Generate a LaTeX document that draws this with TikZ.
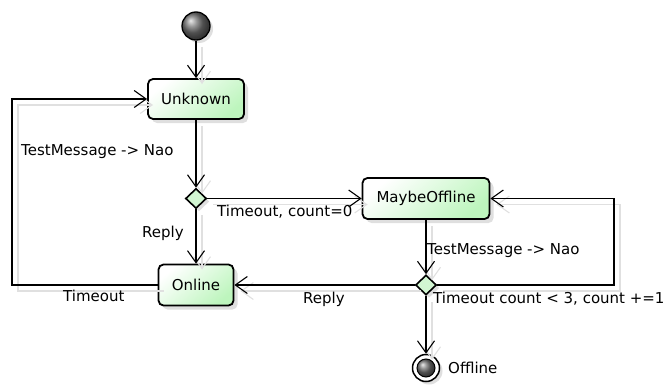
\documentclass[tikz,border=0pt]{standalone}
\usepackage{fontspec}
\setmainfont{DejaVu Sans}
\usetikzlibrary{arrows.meta,shapes.geometric,shadows}
\definecolor{boxgreen}{HTML}{BDF5BD}
\definecolor{diagreen}{HTML}{D2F6D2}
\tikzset{
  txt/.style={font=\fontsize{15}{18}\selectfont},
  state/.style={draw, line width=1.8pt, rounded corners=5pt, top color=white, bottom color=boxgreen, shading angle=40, inner sep=0pt, txt,
     drop shadow={shadow xshift=4pt, shadow yshift=-4pt, fill=black!25, opacity=0.5}},
  choice/.style={diamond, draw, line width=1.6pt, fill=diagreen, minimum width=21pt, minimum height=20pt, inner sep=0pt,
     drop shadow={shadow xshift=3pt, shadow yshift=-3pt, fill=black!25, opacity=0.5}},
  initst/.style={circle, draw, line width=1.3pt, minimum size=28pt, inner sep=0pt, shading=ball, ball color=black!55,
     drop shadow={shadow xshift=3pt, shadow yshift=-3pt, fill=black!25, opacity=0.5}},
  finalst/.style={circle, draw, line width=1.5pt, minimum size=27pt, inner sep=0pt, fill=white,
     drop shadow={shadow xshift=3pt, shadow yshift=-3pt, fill=black!25, opacity=0.5}},
  finalin/.style={circle, draw, line width=1pt, minimum size=18pt, inner sep=0pt, shading=ball, ball color=black!55},
  conn/.style={line width=1.1pt, -{Straight Barb[length=12pt,width=17pt,line width=1.1pt]}},
  shadowline/.style={draw=black!12, line width=1.1pt, -{Straight Barb[length=12pt,width=17pt,line width=1.1pt]}},
  lbl/.style={anchor=base west, inner sep=0pt, txt}
}
\newcommand\edgeshadow[1]{\draw[shadowline, transform canvas={shift={(6pt,-6pt)}}] #1;}
\begin{document}
\begin{tikzpicture}[x=1pt,y=-1pt]
\useasboundingbox (0,0) rectangle (671,385);
% nodes
\node[initst] (start) at (196,26) {};
\node[state, minimum width=96pt, minimum height=40pt] (unk) at (196,99) {Unknown};
\node[choice] (d1) at (196,198.5) {};
\node[state, minimum width=127pt, minimum height=41pt] (mo) at (426,198.5) {MaybeOffline};
\node[state, minimum width=75pt, minimum height=41pt] (onl) at (196,285) {Online};
\node[choice] (d2) at (426,285) {};
\node[finalst] (end) at (426,368) {};
\node[finalin] (endin) at (end.center) {};
\coordinate (lb) at (12,285);
\coordinate (rb) at (614,285);
% connector shadows
\edgeshadow{(start) -- (unk)}
\edgeshadow{(unk) -- (d1)}
\edgeshadow{(d1) -- (onl)}
\edgeshadow{(d1) -- (mo)}
\edgeshadow{(onl.west) -- (lb) |- (unk.west)}
\edgeshadow{(mo) -- (d2)}
\edgeshadow{(d2) -- (onl)}
\edgeshadow{(d2.east) -- (rb) |- (mo.east)}
\edgeshadow{(d2) -- (end)}
% connectors
\draw[conn] (start) -- (unk);
\draw[conn] (unk) -- (d1);
\draw[conn] (d1) -- (onl);
\draw[conn] (d1) -- (mo);
\draw[conn] (onl.west) -- (lb) |- (unk.west);
\draw[conn] (mo) -- (d2);
\draw[conn] (d2) -- (onl);
\draw[conn] (d2.east) -- (rb) |- (mo.east);
\draw[conn] (d2) -- (end);
% labels
\node[lbl] (l1) at (21,155) {TestMessage -> Nao};
\node[lbl] (l2) at (217,216) {Timeout, count=0};
\node[lbl] (l3) at (142,237) {Reply};
\node[lbl] (l4) at (63,301) {Timeout};
\node[lbl] (l5) at (303,303) {Reply};
\node[lbl] (l6) at (427,254) {TestMessage -> Nao};
\node[lbl] (l7) at (433,303) {Timeout count < 3, count +=1};
\node[lbl] (l8) at (448,373) {Offline};
\end{tikzpicture}
\end{document}
